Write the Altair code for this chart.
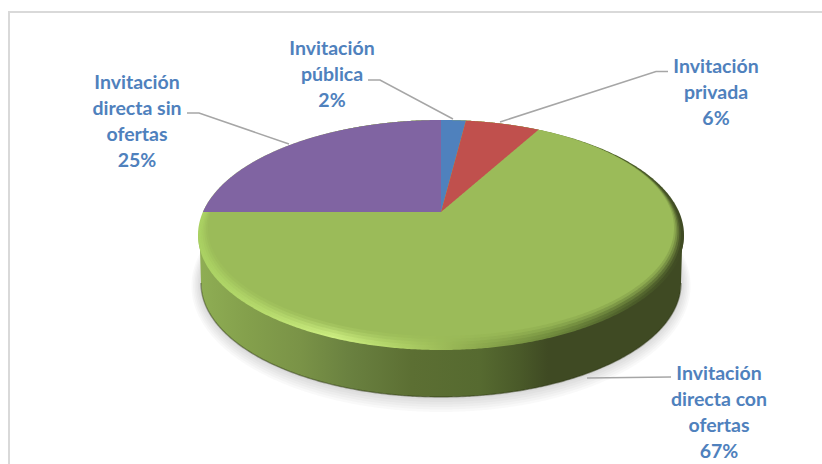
import numpy as np
import pandas as pd
import altair as alt

# Contract award modalities and their share of the total, clockwise from 12 o'clock
categories = ["Invitación pública", "Invitación privada", "Invitación directa con ofertas", "Invitación directa sin ofertas"]
shares = [2, 6, 67, 25]
slice_colors = ["#4f81bd", "#c0504d", "#9bbb59", "#8064a2"]

label_lines = [
    ["Invitación", "pública", "2%"],
    ["Invitación", "privada", "6%"],
    ["Invitación", "directa con", "ofertas", "67%"],
    ["Invitación", "directa sin", "ofertas", "25%"],
]
label_centres = [(332, 75), (716, 93), (719, 413), (137, 122)]
leaders = [
    [(368, 80), (380, 80), (453, 119)],
    [(668, 71.5), (656, 71.5), (500, 122)],
    [(671, 377), (587, 378)],
    [(187, 113), (199, 113), (289, 144)],
]

W, H = 822, 464
FONT = "Lato"
TEXT_COLOR = "#4f81bd"
LEADER_COLOR = "#a6a6a6"
FRAME_COLOR = "#d9d9d9"

# Disc geometry: the top face is a circle seen in perspective
APEX = (441.0, 212.0)
UP, DOWN, HALF_W = 92.0, 138.0, 243.0
B = 2 / (1 / UP + 1 / DOWN)
K = B / UP - 1
A = HALF_W * np.sqrt(1 - K * K)
TOP_CY = APEX[1] + (DOWN - UP) / 2
TOP_B = (DOWN + UP) / 2


def rim_point(fraction):
    """Position on the rim of the top face for a cumulative share of the pie."""
    angle = 2 * np.pi * fraction
    u, v = np.sin(angle), np.cos(angle)
    d = 1 + K * v
    return APEX[0] + A * u / d, APEX[1] - B * v / d


def wedge_frame(start, end):
    """Upper and lower outline of a slice, sampled along x, for an area mark."""
    fr = np.linspace(start, end, 160)
    px, py = rim_point(fr)
    poly_x = np.r_[APEX[0], px, APEX[0]]
    poly_y = np.r_[APEX[1], py, APEX[1]]
    grid = np.unique(np.r_[np.linspace(poly_x.min(), poly_x.max(), 300), poly_x])
    rows = []
    for x in grid:
        hits = []
        for i in range(len(poly_x) - 1):
            x0, x1, y0, y1 = poly_x[i], poly_x[i + 1], poly_y[i], poly_y[i + 1]
            if min(x0, x1) <= x <= max(x0, x1):
                if x0 == x1:
                    hits += [y0, y1]
                else:
                    hits.append(y0 + (x - x0) / (x1 - x0) * (y1 - y0))
        if hits:
            rows.append({"x": x, "y": min(hits), "y2": max(hits)})
    return pd.DataFrame(rows)


def ellipse_frame(cx, cy, a, b):
    t = np.linspace(0, np.pi, 361)
    return pd.DataFrame({
        "x": cx - a * np.cos(t),
        "y": cy - b * np.sin(t),
        "y2": cy + b * np.sin(t),
    })


x_enc = alt.X("x:Q", scale=alt.Scale(domain=[0, W]), axis=None)
y_enc = alt.Y("y:Q", scale=alt.Scale(domain=[H, 0]), axis=None)
y2_enc = alt.Y2("y2:Q")


def area(df, fill, opacity=1.0):
    return alt.Chart(df).mark_area(color=fill, opacity=opacity, interpolate="linear").encode(x=x_enc, y=y_enc, y2=y2_enc)


def polyline(points, color, width, opacity=1.0):
    df = pd.DataFrame([{"x": x, "y": y, "i": i} for i, (x, y) in enumerate(points)])
    return alt.Chart(df).mark_line(color=color, strokeWidth=width, opacity=opacity, interpolate="linear").encode(
        x=x_enc, y=y_enc, order="i:O"
    )


def h_gradient(stops):
    return alt.Gradient(
        gradient="linear", x1=0, x2=1, y1=0, y2=0,
        stops=[alt.GradientStop(offset=o, color=c) for o, c in stops],
    )


layers = []

# Chart frame
layers.append(polyline([(9, H), (9, 12), (W, 12)], FRAME_COLOR, 2))

# Soft shadow below the disc
BOT_CY, BOT_A, BOT_B = 283.0, 240.0, 114.0
for e in [12, 10, 8, 6, 4, 2]:
    layers.append(area(ellipse_frame(441, BOT_CY + e * 0.25, BOT_A + e * 0.8, BOT_B + e), "#000000", 0.022))

# Side wall of the disc
xs = np.linspace(198, 684, 487)
top_low = TOP_CY + TOP_B * np.sqrt(np.clip(1 - ((xs - 441) / HALF_W) ** 2, 0, 1))
bot_low = BOT_CY + BOT_B * np.sqrt(np.clip(1 - ((xs - 441) / BOT_A) ** 2, 0, 1))
inside = np.abs(xs - 441) <= BOT_A
wall = pd.DataFrame({"x": xs, "y": np.where(inside, np.maximum(top_low, bot_low), top_low), "y2": TOP_CY})
layers.append(area(wall, h_gradient([
    (0.0, "#8fae54"), (0.10, "#84a04c"), (0.21, "#7a9347"), (0.31, "#6a8140"),
    (0.44, "#5c6f33"), (0.58, "#566a30"), (0.66, "#4a5a29"), (0.72, "#3f4a23"), (1.0, "#3f4a23"),
])))

# Dark line along the foot of the wall
t = np.linspace(0, np.pi, 241)
layers.append(polyline(
    list(zip(441 - BOT_A * np.cos(t), BOT_CY + BOT_B * np.sin(t))), "#2b3312", 1.4, 0.45
))

# Bevelled rim of the top face
layers.append(area(ellipse_frame(441, TOP_CY, HALF_W, TOP_B), h_gradient([
    (0.0, "#a9d062"), (0.14, "#b8dc6e"), (0.28, "#cdee82"), (0.42, "#afd166"),
    (0.56, "#90ad50"), (0.72, "#6f8a3c"), (0.88, "#4d5f2a"), (1.0, "#3f4a23"),
])))

# Top face, with nested ellipses softening its edge
steps = np.linspace(0, 1, 5)
for s, op in zip(steps, [0.12, 0.25, 0.4, 0.6, 1.0]):
    a = 240 + (233 - 240) * s
    bottom = 348 + (336 - 348) * s
    cy = (120 + bottom) / 2
    layers.append(area(ellipse_frame(441, cy, a, (bottom - 120) / 2), slice_colors[2], op))

# Slices other than the large one, which the top face already shows
cum = np.cumsum([0] + shares) / sum(shares)
for i, color in enumerate(slice_colors):
    if i != 2:
        layers.append(area(wedge_frame(cum[i], cum[i + 1]), color))

# Leader lines
for pts in leaders:
    layers.append(polyline(pts, LEADER_COLOR, 1.5))

# Category labels, one row per text line
LINE_STEP = 26.2
rows = []
for lines, (cx, cy) in zip(label_lines, label_centres):
    for j, line in enumerate(lines):
        rows.append({"x": cx, "y": cy + (j - (len(lines) - 1) / 2) * LINE_STEP, "text": line})
labels = alt.Chart(pd.DataFrame(rows)).mark_text(
    font=FONT, fontWeight="bold", fontSize=19.5, color=TEXT_COLOR, align="center", baseline="middle"
).encode(x=x_enc, y=y_enc, text="text:N")
layers.append(labels)

chart = alt.layer(*layers).properties(
    width=W, height=H, padding=0, autosize=alt.AutoSizeParams(type="none"), background="#ffffff"
).configure_view(stroke=None)

chart.save("out.html", embed_options={"renderer": "svg", "actions": False})
